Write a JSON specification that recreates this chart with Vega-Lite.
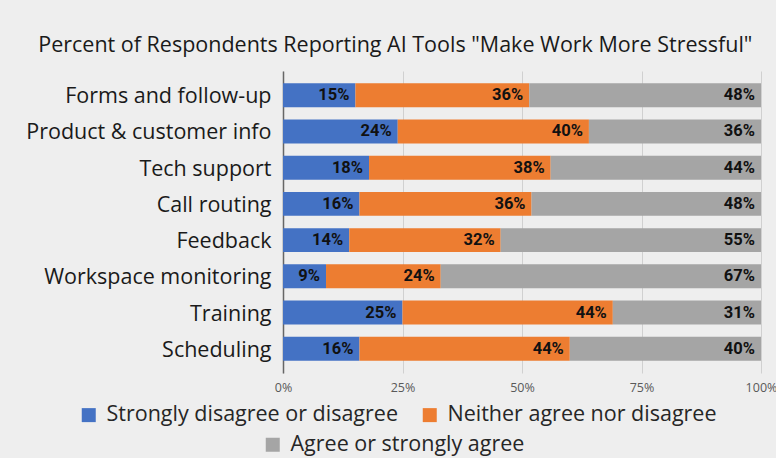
{
  "$schema": "https://vega.github.io/schema/vega-lite/v6.json",
  "width": 478,
  "height": 302,
  "autosize": {"type": "none"},
  "padding": {"left": 283, "top": 71, "right": 15, "bottom": 85},
  "background": "#eeeeee",
  "title": {
    "text": "Percent of Respondents Reporting AI Tools \"Make Work More Stressful\"",
    "frame": "bounds",
    "anchor": "middle",
    "font": "Open Sans",
    "fontSize": 21.5,
    "fontWeight": "normal",
    "color": "#1a1a1a",
    "offset": 15,
    "dx": -6
  },
  "config": {
    "view": {"stroke": null}
  },
  "data": {
    "values": [
      {"task": "Forms and follow-up", "cat": "Strongly disagree or disagree", "order": 1, "value": 0.15},
      {"task": "Forms and follow-up", "cat": "Neither agree nor disagree", "order": 2, "value": 0.36},
      {"task": "Forms and follow-up", "cat": "Agree or strongly agree", "order": 3, "value": 0.48},
      {"task": "Product & customer info", "cat": "Strongly disagree or disagree", "order": 1, "value": 0.24},
      {"task": "Product & customer info", "cat": "Neither agree nor disagree", "order": 2, "value": 0.40},
      {"task": "Product & customer info", "cat": "Agree or strongly agree", "order": 3, "value": 0.36},
      {"task": "Tech support", "cat": "Strongly disagree or disagree", "order": 1, "value": 0.18},
      {"task": "Tech support", "cat": "Neither agree nor disagree", "order": 2, "value": 0.38},
      {"task": "Tech support", "cat": "Agree or strongly agree", "order": 3, "value": 0.44},
      {"task": "Call routing", "cat": "Strongly disagree or disagree", "order": 1, "value": 0.16},
      {"task": "Call routing", "cat": "Neither agree nor disagree", "order": 2, "value": 0.36},
      {"task": "Call routing", "cat": "Agree or strongly agree", "order": 3, "value": 0.48},
      {"task": "Feedback", "cat": "Strongly disagree or disagree", "order": 1, "value": 0.14},
      {"task": "Feedback", "cat": "Neither agree nor disagree", "order": 2, "value": 0.32},
      {"task": "Feedback", "cat": "Agree or strongly agree", "order": 3, "value": 0.55},
      {"task": "Workspace monitoring", "cat": "Strongly disagree or disagree", "order": 1, "value": 0.09},
      {"task": "Workspace monitoring", "cat": "Neither agree nor disagree", "order": 2, "value": 0.24},
      {"task": "Workspace monitoring", "cat": "Agree or strongly agree", "order": 3, "value": 0.67},
      {"task": "Training", "cat": "Strongly disagree or disagree", "order": 1, "value": 0.25},
      {"task": "Training", "cat": "Neither agree nor disagree", "order": 2, "value": 0.44},
      {"task": "Training", "cat": "Agree or strongly agree", "order": 3, "value": 0.31},
      {"task": "Scheduling", "cat": "Strongly disagree or disagree", "order": 1, "value": 0.16},
      {"task": "Scheduling", "cat": "Neither agree nor disagree", "order": 2, "value": 0.44},
      {"task": "Scheduling", "cat": "Agree or strongly agree", "order": 3, "value": 0.40}
    ]
  },
  "transform": [
    {"stack": "value", "groupby": ["task"], "sort": [{"field": "order", "order": "ascending"}], "offset": "normalize", "as": ["v0", "v1"]}
  ],
  "encoding": {
    "y": {
      "field": "task",
      "type": "nominal",
      "sort": ["Forms and follow-up", "Product & customer info", "Tech support", "Call routing", "Feedback", "Workspace monitoring", "Training", "Scheduling"],
      "scale": {"paddingInner": 0.34, "paddingOuter": 0.34},
      "axis": {
        "title": null,
        "ticks": false,
        "domainColor": "#666666",
        "domainWidth": 1.5,
        "labelFont": "Open Sans",
        "labelFontSize": 21.5,
        "labelColor": "#1a1a1a",
        "labelPadding": 12,
        "labelOffset": 2,
        "labelLimit": 300
      }
    }
  },
  "layer": [
    {
      "transform": [{"filter": "datum.order < 3"}],
      "mark": {"type": "bar"},
      "encoding": {
        "x": {
          "field": "v0",
          "type": "quantitative",
          "scale": {"domain": [0, 1]},
          "axis": {
            "title": null,
            "format": ".0%",
            "values": [0, 0.25, 0.5, 0.75, 1],
            "domain": false,
            "ticks": false,
            "grid": true,
            "gridColor": "#d0d0d0",
            "gridWidth": 1,
            "labelFlush": false,
            "labelFont": "Open Sans",
            "labelFontSize": 12.5,
            "labelColor": "#595959",
            "labelPadding": 8
          }
        },
        "x2": {"field": "v1"},
        "color": {
          "field": "cat",
          "type": "nominal",
          "scale": {"domain": ["Strongly disagree or disagree", "Neither agree nor disagree"], "range": ["#4472c4", "#ed7d31"]},
          "legend": {
            "title": null,
            "orient": "none",
            "legendX": -205,
            "legendY": 333,
            "padding": 0,
            "direction": "horizontal",
            "symbolType": "square",
            "symbolSize": 196,
            "symbolStrokeWidth": 0,
            "labelOffset": 7,
            "labelFont": "Open Sans",
            "labelFontSize": 21.5,
            "labelColor": "#262626",
            "labelLimit": 400,
            "columnPadding": 21
          }
        }
      }
    },
    {
      "transform": [{"filter": "datum.order == 3"}],
      "mark": {"type": "bar"},
      "encoding": {
        "x": {"field": "v0", "type": "quantitative"},
        "x2": {"field": "v1"},
        "fill": {
          "field": "cat",
          "type": "nominal",
          "scale": {"domain": ["Agree or strongly agree"], "range": ["#a5a5a5"]},
          "legend": {
            "title": null,
            "orient": "none",
            "legendX": -21,
            "legendY": 363,
            "padding": 0,
            "direction": "horizontal",
            "symbolType": "square",
            "symbolSize": 196,
            "symbolStrokeWidth": 0,
            "labelOffset": 7,
            "labelFont": "Open Sans",
            "labelFontSize": 21.5,
            "labelColor": "#262626",
            "labelLimit": 400
          }
        }
      }
    },
    {
      "mark": {"type": "text", "align": "right", "dx": -6, "font": "Roboto", "fontWeight": "bold", "fontSize": 16.5, "color": "#111111"},
      "encoding": {
        "x": {"field": "v1", "type": "quantitative"},
        "text": {"field": "value", "type": "quantitative", "format": ".0%"}
      }
    }
  ]
}
